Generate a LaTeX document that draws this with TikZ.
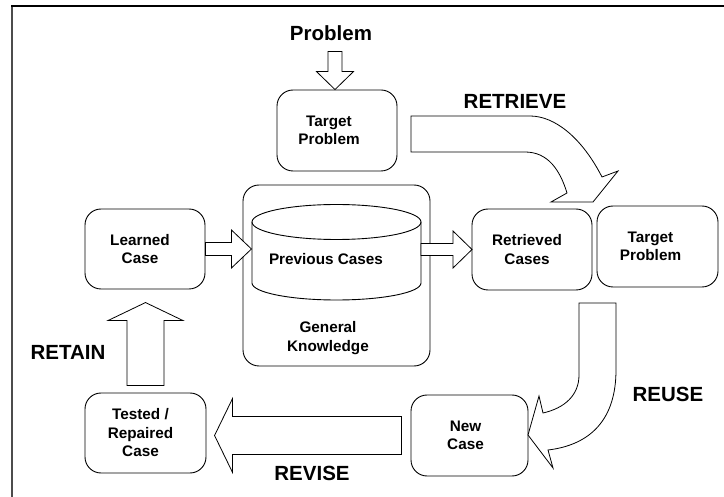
\documentclass[tikz,border=0pt]{standalone}
\usepackage{fontspec}
\setmainfont{Liberation Sans}
\newcommand\diagboxfont{\bfseries\fontsize{15.3}{18.5}\selectfont}
\newcommand\diaglabelfont{\bfseries\fontsize{20.5}{24}\selectfont}
\tikzset{
  outline/.style={draw=black,line width=0.9pt},
  box/.style={outline,rounded corners=16pt,inner sep=0pt},
  boxtext/.style={align=center,inner sep=0pt,font=\diagboxfont},
  steplabel/.style={font=\diaglabelfont,inner sep=0pt},
  blockarrow/.style={draw=black,line width=0.8pt,fill=white,line join=miter},
  % hollow block arrow pointing along local +x: length/shaft half/head half/head length
  pics/hollow/.style args={#1/#2/#3/#4}{code={
    \draw[blockarrow] (0,-#2) -- ({#1-#4},-#2) -- ({#1-#4},-#3) -- (#1,0)
      -- ({#1-#4},#3) -- ({#1-#4},#2) -- (0,#2) -- cycle;}}
}
\begin{document}
\begin{tikzpicture}[x=1pt,y=-1pt]
\useasboundingbox (0,0) rectangle (724,497);

% page frame (top and left edges)
\draw[gray!60!black,line width=1.5pt] (12,6) -- (12,497);
\draw[black,line width=1.3pt] (11,6) -- (724,6);

% knowledge store with the case base cylinder
\node[box,minimum width=187pt,minimum height=181pt] (gk) at (336.5,275.5) {};
\node[boxtext] (gktext) at (328,338) {General\\Knowledge};
\coordinate (cylL) at (252,249.5);
\coordinate (cylR) at (421,249.5);
\draw[outline] (252,222) -- (252,283) arc (180:0:84.5 and 17) -- (421,222);
\draw[outline] (336.5,222) ellipse (84.5 and 17.5);
\node[boxtext] (prev) at (326,259) {Previous Cases};

% case boxes and their texts
\node[box,minimum width=120pt,minimum height=81pt] (tp) at (337,130.5) {};
\node[boxtext] (tptext) at ([xshift=-8pt]tp.center) {Target\\Problem};
\node[box,minimum width=120pt,minimum height=80pt] (learned) at (145,249) {};
\node[boxtext] (learnedtext) at ([xshift=-5pt]learned.center) {Learned\\Case};
\node[box,minimum width=120pt,minimum height=81pt] (ret) at (532,249.5) {};
\node[boxtext] (rettext) at ([xshift=-5pt]ret.center) {Retrieved\\Cases};
\node[box,minimum width=121pt,minimum height=81pt] (tp2) at (657.5,246.5) {};
\node[boxtext] (tp2text) at ([xshift=-7pt]tp2.center) {Target\\Problem};
\node[box,minimum width=117pt,minimum height=81pt] (newc) at (469.5,435.5) {};
\node[boxtext] (newctext) at ([xshift=-4pt]newc.center) {New\\Case};
\node[box,minimum width=121pt,minimum height=80pt] (tested) at (145.5,433) {};
\node[boxtext] (testedtext) at ([xshift=-5pt]tested.center) {Tested /\\Repaired\\Case};

% step labels
\node[steplabel] (lproblem) at (331,33.5) {Problem};
\node[steplabel] (lretrieve) at (515,101) {RETRIEVE};
\node[steplabel] (lreuse) at (668,394) {REUSE};
\node[steplabel] (lretain) at (68,352) {RETAIN};
\node[steplabel] (lrevise) at (312,473) {REVISE};

% straight block arrows
\pic[rotate=-90] at ([xshift=-2pt,yshift=38pt]tp.north) {hollow=38/7/18.5/18};
\pic at (learned.east) {hollow=46/6.5/19/20};
\pic at (cylR) {hollow=51/6/18.5/19};
\pic[rotate=180] at ([xshift=-9pt]newc.west) {hollow=187/19/37/18};
\pic[rotate=90] at ([yshift=7pt]tested.north) {hollow=83/18.5/37.5/18};

% RETRIEVE: curved block arrow from the target problem down to the retrieved cases
\draw[blockarrow] (411,116) -- (530,116) .. controls (555,116) and (582,138) .. (602,177)
  -- (618,171) -- (593,202) -- (551,202) -- (567,193)
  .. controls (560,170) and (548,152) .. (525,152) -- (411,152) -- cycle;

% REUSE: curved block arrow down to the new case
\draw[blockarrow] (579,303) -- (616,303) -- (616,370)
  .. controls (616,420) and (590,445) .. (548,450)
  -- (553,468) -- (528,435) -- (539,396) -- (543,413)
  .. controls (565,408) and (579,395) .. (579,375) -- cycle;
\end{tikzpicture}
\end{document}
